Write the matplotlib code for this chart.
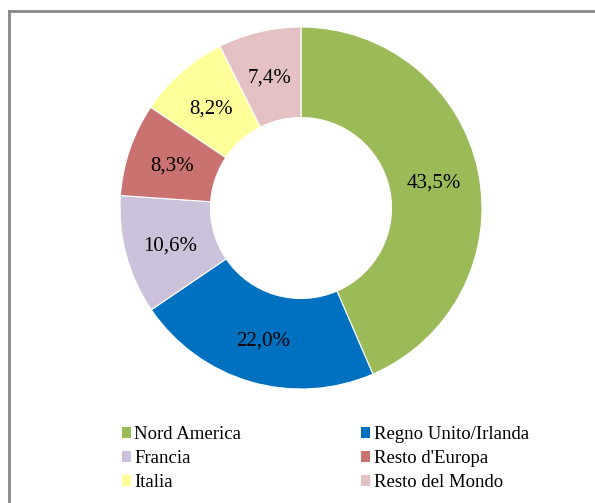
import matplotlib.pyplot as plt
from matplotlib.lines import Line2D
from matplotlib.patches import Patch

regioni = ["Nord America", "Regno Unito/Irlanda", "Francia",
           "Resto d'Europa", "Italia", "Resto del Mondo"]
quote = [43.5, 22.0, 10.6, 8.3, 8.2, 7.4]
colori = ["#9BBB59", "#0070C0", "#CCC1DA", "#C9726F", "#FFFF99", "#E4C2C3"]

plt.rcParams['font.family'] = ['Liberation Serif', 'DejaVu Serif']

W, H = 595, 503
fig = plt.figure(figsize=(W / 100, H / 100), dpi=100)

# cornice (solo alto e sinistra visibili)
fig.add_artist(Line2D([9 / W, 1], [1 - 11 / H, 1 - 11 / H], color="#888888", lw=2))
fig.add_artist(Line2D([9 / W, 9 / W], [0, 1 - 11 / H], color="#888888", lw=2))

cx, cy, r = 301, 208, 181
ax = fig.add_axes([(cx - r) / W, 1 - (cy + r) / H, 2 * r / W, 2 * r / H])
wedges, testi, pct = ax.pie(
    quote, colors=colori, startangle=90, counterclock=False,
    radius=1, autopct=lambda p: f"{p:.1f}%".replace(".", ","),
    pctdistance=0.75, wedgeprops=dict(width=0.5, edgecolor="white", linewidth=0.8),
    textprops=dict(fontsize=15, color="black"))
for t in pct:
    t.set_va("center_baseline")
ax.set_xlim(-1, 1)
ax.set_ylim(-1, 1)
ax.set_aspect("equal")
ax.axis("off")

# legenda riga per riga
handles = [Patch(facecolor=c, edgecolor="none") for c in colori]
ordine = [0, 2, 4, 1, 3, 5]
fig.legend([handles[i] for i in ordine], [regioni[i] for i in ordine],
           ncol=2, loc="upper left", bbox_to_anchor=(122 / W, 1 - 426 / H),
           frameon=False, fontsize=13.5, handlelength=0.48, handleheight=0.48,
           handletextpad=0.18, columnspacing=6.4, labelspacing=0.38,
           borderpad=0, borderaxespad=0)

fig.savefig("out.png", dpi=100)
